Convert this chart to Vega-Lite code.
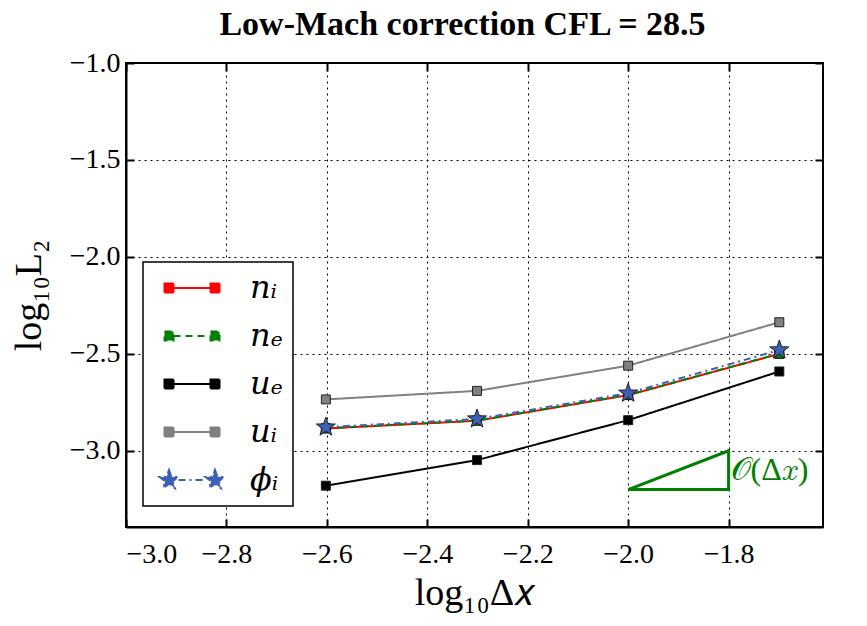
{
  "$schema": "https://vega.github.io/schema/vega-lite/v6.json",
  "width": 697,
  "height": 464,
  "autosize": "none",
  "padding": {"left": 126, "top": 63, "right": 44, "bottom": 99},
  "background": "white",
  "title": {"text": "Low-Mach correction CFL = 28.5", "font": "Liberation Serif", "fontSize": 34, "fontWeight": "bold", "color": "black", "offset": 7, "dx": -12, "anchor": "middle"},
  "datasets": {
    "errors": [
      {"dx": -2.602, "err": -2.885, "series": "nᵢ"},
      {"dx": -2.301, "err": -2.845, "series": "nᵢ"},
      {"dx": -2.0, "err": -2.713, "series": "nᵢ"},
      {"dx": -1.699, "err": -2.5, "series": "nᵢ"},
      {"dx": -2.602, "err": -2.884, "series": "nₑ"},
      {"dx": -2.301, "err": -2.844, "series": "nₑ"},
      {"dx": -2.0, "err": -2.712, "series": "nₑ"},
      {"dx": -1.699, "err": -2.499, "series": "nₑ"},
      {"dx": -2.602, "err": -3.18, "series": "uₑ"},
      {"dx": -2.301, "err": -3.048, "series": "uₑ"},
      {"dx": -2.0, "err": -2.842, "series": "uₑ"},
      {"dx": -1.699, "err": -2.591, "series": "uₑ"},
      {"dx": -2.602, "err": -2.735, "series": "uᵢ"},
      {"dx": -2.301, "err": -2.691, "series": "uᵢ"},
      {"dx": -2.0, "err": -2.561, "series": "uᵢ"},
      {"dx": -1.699, "err": -2.337, "series": "uᵢ"},
      {"dx": -2.602, "err": -2.878, "series": "ϕᵢ"},
      {"dx": -2.301, "err": -2.836, "series": "ϕᵢ"},
      {"dx": -2.0, "err": -2.703, "series": "ϕᵢ"},
      {"dx": -1.699, "err": -2.48, "series": "ϕᵢ"}
    ],
    "triangle": [
      {"dx": -2.0, "err": -3.2, "k": 0},
      {"dx": -1.8, "err": -3.2, "k": 1},
      {"dx": -1.8, "err": -3.0, "k": 2},
      {"dx": -2.0, "err": -3.2, "k": 3}
    ],
    "note": [
      {"dx": -1.796, "err": -3.1, "label": "𝒪(Δ𝑥)"}
    ]
  },
  "config": {
    "view": {"stroke": "black", "strokeWidth": 2},
    "axis": {
      "labelFont": "Liberation Serif", "labelFontSize": 28, "labelColor": "black",
      "titleFont": "Liberation Serif", "titleFontSize": 38, "titleFontWeight": "normal", "titleColor": "black",
      "tickColor": "black", "tickWidth": 2, "tickSize": -8,
      "domainColor": "black", "domainWidth": 2,
      "gridColor": "black", "gridDash": [2, 4], "gridWidth": 1, "gridOpacity": 1
    },
    "legend": {
      "padding": 10, "strokeColor": "black", "fillColor": "white",
      "symbolSize": 900, "symbolStrokeWidth": 2, "symbolOpacity": 1,
      "labelFont": "DejaVu Serif", "labelFontStyle": "italic", "labelFontSize": 32, "labelColor": "black",
      "labelOffset": 65, "rowPadding": 16
    }
  },
  "resolve": {"axis": {"x": "independent", "y": "independent"}},
  "layer": [
    {
      "data": {"name": "errors"},
      "mark": {"type": "line", "strokeWidth": 2},
      "encoding": {
        "x": {"field": "dx", "type": "quantitative",
              "scale": {"domain": [-3.0, -1.612], "nice": false, "zero": false},
              "axis": {"values": [-3.0, -2.8, -2.6, -2.4, -2.2, -2.0, -1.8], "format": ".1f", "labelPadding": 21, "title": "log₁₀Δ𝑥", "titlePadding": 6, "grid": true}},
        "y": {"field": "err", "type": "quantitative",
              "scale": {"domain": [-3.393, -1.0], "nice": false, "zero": false},
              "axis": {"values": [-3.0, -2.5, -2.0, -1.5, -1.0], "format": ".1f", "labelPadding": 14, "title": "log₁₀L₂", "titlePadding": 21, "grid": true}},
        "stroke": {"field": "series", "type": "nominal",
                   "scale": {"domain": ["nᵢ", "nₑ", "uₑ", "uᵢ", "ϕᵢ"], "range": ["#ff0000", "#008000", "#000000", "#808080", "#3d5fb8"]}},
        "strokeDash": {"field": "series", "type": "nominal",
                       "scale": {"domain": ["nᵢ", "nₑ", "uₑ", "uᵢ", "ϕᵢ"], "range": [[1, 0], [7, 5], [1, 0], [1, 0], [7, 4, 2, 4]]}}
      }
    },
    {
      "data": {"name": "triangle"},
      "mark": {"type": "line", "strokeWidth": 3, "color": "#008000"},
      "encoding": {
        "x": {"field": "dx", "type": "quantitative",
              "axis": {"orient": "top", "values": [-3.0, -2.8, -2.6, -2.4, -2.2, -2.0, -1.8], "labels": false, "domain": false, "grid": false, "title": null}},
        "y": {"field": "err", "type": "quantitative",
              "axis": {"orient": "right", "values": [-3.0, -2.5, -2.0, -1.5, -1.0], "labels": false, "domain": false, "grid": false, "title": null}},
        "order": {"field": "k", "type": "quantitative"}
      }
    },
    {
      "data": {"name": "errors"},
      "transform": [{"filter": "datum.series !== 'ϕᵢ'"}],
      "mark": {"type": "point", "shape": "square", "size": 81, "filled": true, "opacity": 1, "stroke": "#222222", "strokeWidth": 1},
      "encoding": {
        "x": {"field": "dx", "type": "quantitative", "axis": null},
        "y": {"field": "err", "type": "quantitative", "axis": null},
        "fill": {"field": "series", "type": "nominal",
                 "scale": {"domain": ["nᵢ", "nₑ", "uₑ", "uᵢ", "ϕᵢ"], "range": ["#ff0000", "#008000", "#000000", "#808080", "#3d5fb8"]}}
      }
    },
    {
      "data": {"name": "errors"},
      "transform": [{"filter": "datum.series === 'ϕᵢ'"}],
      "mark": {"type": "point", "shape": "M0,-1L0.235,-0.324L0.951,-0.309L0.38,0.124L0.588,0.809L0,0.4L-0.588,0.809L-0.38,0.124L-0.951,-0.309L-0.235,-0.324Z", "size": 400, "filled": true, "opacity": 1, "stroke": "#222222", "strokeWidth": 1},
      "encoding": {
        "x": {"field": "dx", "type": "quantitative", "axis": null},
        "y": {"field": "err", "type": "quantitative", "axis": null},
        "fill": {"field": "series", "type": "nominal",
                 "scale": {"domain": ["nᵢ", "nₑ", "uₑ", "uᵢ", "ϕᵢ"], "range": ["#ff0000", "#008000", "#000000", "#808080", "#3d5fb8"]}}
      }
    },
    {
      "data": {"name": "note"},
      "mark": {"type": "text", "align": "left", "baseline": "middle", "font": "Liberation Serif", "fontSize": 32, "color": "#008000"},
      "encoding": {
        "x": {"field": "dx", "type": "quantitative", "axis": null},
        "y": {"field": "err", "type": "quantitative", "axis": null},
        "text": {"field": "label", "type": "nominal"}
      }
    },
    {
      "data": {"name": "errors"},
      "mark": {"type": "point", "filled": true, "opacity": 0},
      "encoding": {
        "x": {"field": "dx", "type": "quantitative", "axis": null},
        "y": {"field": "err", "type": "quantitative", "axis": null},
        "fill": {"field": "series", "type": "nominal",
                 "scale": {"domain": ["nᵢ", "nₑ", "uₑ", "uᵢ", "ϕᵢ"], "range": ["#ff0000", "#008000", "#000000", "#808080", "#3d5fb8"]},
                 "legend": {"title": null, "orient": "none", "legendX": 17, "legendY": 199, "encode": {"symbols": {"update": {"opacity": {"value": 1}}}, "legend": {"update": {"strokeWidth": {"value": 1.5}}}}}},
        "stroke": {"field": "series", "type": "nominal",
                   "scale": {"domain": ["nᵢ", "nₑ", "uₑ", "uᵢ", "ϕᵢ"], "range": ["#ff0000", "#008000", "#000000", "#808080", "#3d5fb8"]}},
        "strokeDash": {"field": "series", "type": "nominal",
                       "scale": {"domain": ["nᵢ", "nₑ", "uₑ", "uᵢ", "ϕᵢ"], "range": [[1, 0], [7, 5], [1, 0], [1, 0], [7, 4, 2, 4]]}},
        "shape": {"field": "series", "type": "nominal",
                  "scale": {"domain": ["nᵢ", "nₑ", "uₑ", "uᵢ", "ϕᵢ"], "range": [
                    "M-0.3,-0.3H0.3V0.3H-0.3Z M2.767,-0.3H3.367V0.3H2.767Z M0.3,0H2.767",
                    "M-0.3,-0.3H0.3V0.3H-0.3Z M2.767,-0.3H3.367V0.3H2.767Z M0.3,0H2.767",
                    "M-0.3,-0.3H0.3V0.3H-0.3Z M2.767,-0.3H3.367V0.3H2.767Z M0.3,0H2.767",
                    "M-0.3,-0.3H0.3V0.3H-0.3Z M2.767,-0.3H3.367V0.3H2.767Z M0.3,0H2.767",
                    "M0,-0.667L0.157,-0.216L0.634,-0.206L0.254,0.083L0.392,0.54L0,0.267L-0.392,0.54L-0.254,0.083L-0.634,-0.206L-0.157,-0.216Z M3.067,-0.667L3.224,-0.216L3.701,-0.206L3.321,0.083L3.459,0.54L3.067,0.267L2.675,0.54L2.813,0.083L2.433,-0.206L2.91,-0.216Z M0.634,0H2.433"
                  ]}}
      }
    }
  ]
}
